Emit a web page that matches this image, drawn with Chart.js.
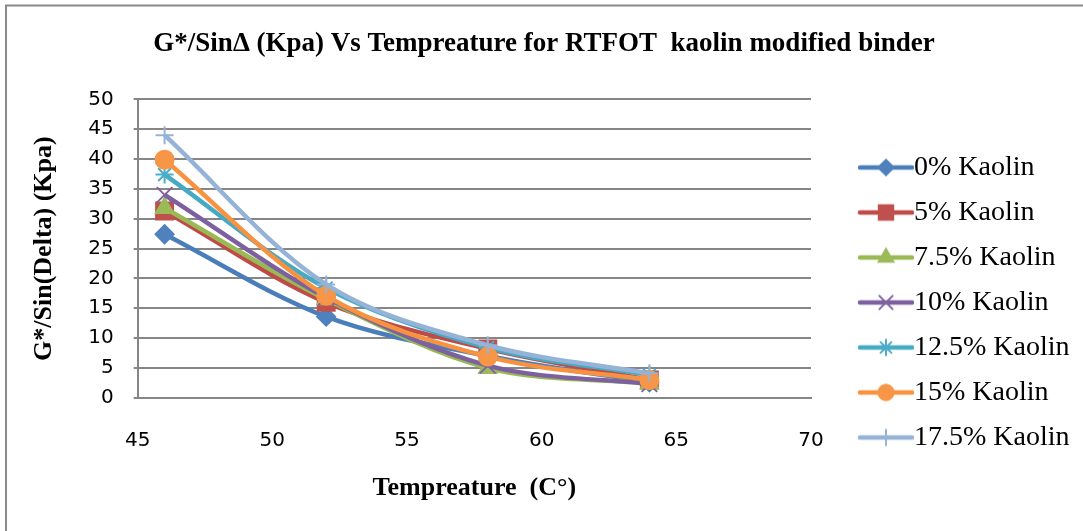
<!DOCTYPE html>
<html>
<head>
<meta charset="utf-8">
<script src="https://cdn.jsdelivr.net/npm/chart.js@4/dist/chart.umd.min.js"></script>
<style>
  html, body { margin: 0; padding: 0; background: #fff; }
  #wrap { width: 1083px; height: 531px; }
</style>
</head>
<body>
<div id="wrap"><canvas id="myChart" width="1083" height="531"></canvas></div>
<script>
const temps = [46, 52, 58, 64];
const seriesNames = ['0% Kaolin', '5% Kaolin', '7.5% Kaolin', '10% Kaolin', '12.5% Kaolin', '15% Kaolin', '17.5% Kaolin'];
const kaolin0 = [27.4, 13.6, 7.0, 2.6];
const kaolin5 = [31.3, 16.0, 8.2, 3.0];
const kaolin75 = [31.8, 16.5, 5.0, 2.4];
const kaolin10 = [34.0, 16.8, 5.4, 2.3];
const kaolin125 = [37.4, 18.4, 8.4, 3.8];
const kaolin15 = [39.9, 17.1, 6.9, 3.0];
const kaolin175 = [44.0, 19.0, 8.8, 4.1];
const xTicks = [45, 50, 55, 60, 65, 70];
const yTicks = [0, 5, 10, 15, 20, 25, 30, 35, 40, 45, 50];

const allValues = [kaolin0, kaolin5, kaolin75, kaolin10, kaolin125, kaolin15, kaolin175];
const lineColors = ['#4A7EBB', '#BE4B48', '#98B954', '#7D60A0', '#46AAC5', '#F69240', '#95B3D7'];
const markColors = ['#4F81BD', '#C0504D', '#9BBB59', '#8064A2', '#4BACC6', '#F79646', '#95B3D7'];
const shapes = ['rectRot', 'rect', 'triangle', 'crossRot', 'star', 'circle', 'cross'];
const radii = [9, 12, 10, 11, 9, 9, 9];

// legend icon: line with the marker in the middle
function legendIcon(i) {
  const c = document.createElement('canvas');
  c.width = 100; c.height = 30;
  const g = c.getContext('2d');
  g.strokeStyle = lineColors[i];
  g.lineWidth = 4.5;
  g.lineCap = 'round';
  g.beginPath(); g.moveTo(46, 15); g.lineTo(98, 15); g.stroke();
  g.fillStyle = markColors[i];
  g.strokeStyle = markColors[i];
  g.lineWidth = 2;
  Chart.helpers.drawPoint(g, {pointStyle: shapes[i], radius: radii[i] * 0.85, borderWidth: 2, rotation: 0}, 72, 15);
  return c;
}

const datasets = allValues.map((vals, i) => ({
  label: seriesNames[i],
  data: vals.map((v, k) => ({x: temps[k], y: v})),
  borderColor: lineColors[i],
  backgroundColor: markColors[i],
  pointBackgroundColor: markColors[i],
  pointBorderColor: markColors[i],
  pointBorderWidth: 2,
  pointStyle: shapes[i],
  pointRadius: radii[i],
  borderWidth: 4.5,
  tension: 0.33,
  order: 7 - i
}));

const frame = {
  id: 'frame',
  beforeDraw(chart) {
    const c = chart.ctx;
    c.save();
    c.fillStyle = '#fff';
    c.fillRect(0, 0, chart.width, chart.height);
    c.strokeStyle = '#8a8a8a';
    c.lineWidth = 2;
    c.beginPath();
    c.moveTo(6, 540); c.lineTo(6, 5.5); c.lineTo(1090, 5.5);
    c.stroke();
    c.restore();
  }
};

const ctx = document.getElementById('myChart').getContext('2d');
const myChart = new Chart(ctx, {
  type: 'line',
  data: { datasets: datasets },
  plugins: [frame],
  options: {
    responsive: false,
    animation: false,
    layout: { padding: { top: 10, left: 10, right: 5, bottom: 20 } },
    plugins: {
      title: {
        display: true,
        text: 'G*/Sin\u0394 (Kpa) Vs Tempreature for RTFOT  kaolin modified binder',
        color: '#000',
        font: { family: 'Liberation Serif', size: 27, weight: 'bold' },
        padding: { top: 18, bottom: 39 }
      },
      legend: {
        position: 'right',
        title: { display: true, text: ' ', font: { size: 10 }, padding: { top: 72, bottom: 0 } },
        labels: {
          color: '#000',
          font: { family: 'Liberation Serif', size: 28 },
          padding: 17,
          usePointStyle: true,
          pointStyleWidth: 72,
          sort: (a, b) => a.datasetIndex - b.datasetIndex,
          generateLabels(chart) {
            const items = Chart.defaults.plugins.legend.labels.generateLabels(chart);
            items.forEach(it => { it.pointStyle = legendIcon(it.datasetIndex); it.rotation = 0; });
            return items;
          }
        }
      },
      tooltip: { enabled: false }
    },
    scales: {
      x: {
        type: 'linear',
        min: 45, max: 70,
        afterBuildTicks: s => { s.ticks = xTicks.map(v => ({value: v})); },
        grid: { display: true, drawOnChartArea: false, drawTicks: true, tickLength: 31, tickColor: 'rgba(0,0,0,0)' },
        border: { display: true, color: '#868686', width: 2 },
        ticks: { color: '#000', font: { family: 'DejaVu Sans', size: 20 }, padding: 0 },
        title: {
          display: true,
          text: 'Tempreature  (C\u00B0)',
          color: '#000',
          font: { family: 'Liberation Serif', size: 26, weight: 'bold' },
          padding: { top: 20, bottom: 7 }
        }
      },
      y: {
        min: 0, max: 50,
        afterBuildTicks: s => { s.ticks = yTicks.map(v => ({value: v})); },
        grid: { color: '#868686', lineWidth: 2, tickLength: 4, tickColor: '#868686' },
        border: { display: true, color: '#868686', width: 2 },
        ticks: { color: '#000', font: { family: 'DejaVu Sans', size: 20 }, padding: 20 },
        title: {
          display: true,
          text: 'G*/Sin(Delta) (Kpa)',
          color: '#000',
          font: { family: 'Liberation Serif', size: 26, weight: 'bold' },
          padding: { top: 19, bottom: 8 }
        }
      }
    }
  }
});
</script>
</body>
</html>
